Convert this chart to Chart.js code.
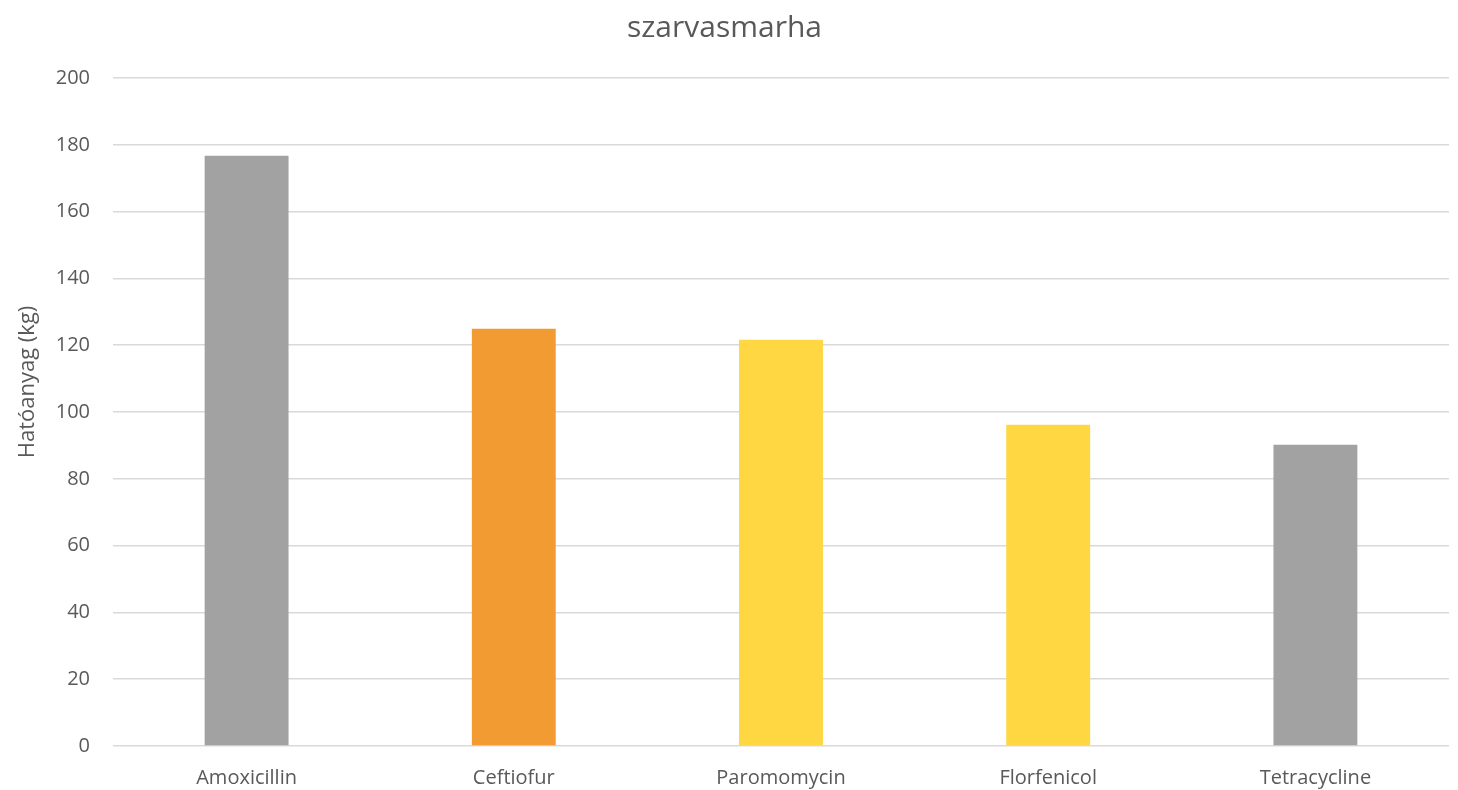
<!DOCTYPE html>
<html>
<head>
<meta charset="utf-8">
<script src="https://cdn.jsdelivr.net/npm/chart.js@4.4.1/dist/chart.umd.min.js"></script>
<style>
  html, body { margin: 0; padding: 0; background: #fff; }
  #wrap { width: 1458px; height: 790px; position: relative; }
</style>
</head>
<body>
<div id="wrap"><canvas id="chart" width="1458" height="790"></canvas></div>
<script>
// adatok
const hatoanyagok = ["Amoxicillin", "Ceftiofur", "Paromomycin", "Florfenicol", "Tetracycline"];
const mennyisegKg = [176.7, 124.9, 121.6, 96.2, 90.2];
const oszlopSzinek = ["#A2A2A2", "#F29B33", "#FED743", "#FED743", "#A2A2A2"];
const yTickek = [0, 20, 40, 60, 80, 100, 120, 140, 160, 180, 200];
const yCim = "Hatóanyag (kg)";

const textColor = "#595959";
const fontFamily = "'Open Sans', sans-serif";

// függőleges tengelycím, kicsit a rajzterület közepe fölé tolva
const yCimPlugin = {
  id: "yCim",
  afterDraw(chart) {
    const ctx = chart.ctx;
    const area = chart.chartArea;
    ctx.save();
    ctx.translate(28, (area.top + area.bottom) / 2 - 30);
    ctx.rotate(-Math.PI / 2);
    ctx.fillStyle = textColor;
    ctx.font = "22px " + fontFamily;
    ctx.textAlign = "center";
    ctx.textBaseline = "middle";
    ctx.fillText(yCim, 0, 0);
    ctx.restore();
  }
};

new Chart(document.getElementById("chart"), {
  type: "bar",
  data: {
    labels: hatoanyagok,
    datasets: [{
      data: mennyisegKg,
      backgroundColor: oszlopSzinek,
      borderWidth: 0,
      categoryPercentage: 1,
      barPercentage: 0.314
    }]
  },
  plugins: [yCimPlugin],
  options: {
    responsive: false,
    animation: false,
    layout: { padding: { left: 0, right: 9, top: 0, bottom: 0 } },
    plugins: {
      legend: { display: false },
      tooltip: { enabled: false },
      title: {
        display: true,
        text: "szarvasmarha",
        color: textColor,
        font: { family: fontFamily, size: 30, weight: "normal" },
        padding: { top: 10, bottom: 32 }
      }
    },
    scales: {
      x: {
        grid: { display: false },
        border: { display: false },
        ticks: {
          color: textColor,
          font: { family: fontFamily, size: 20 },
          padding: 12,
          maxRotation: 0
        },
        afterFit: s => { s.height = 44; }
      },
      y: {
        min: 0,
        max: 200,
        afterBuildTicks: s => { s.ticks = yTickek.map(v => ({ value: v })); },
        grid: { color: "#D9D9D9", lineWidth: 1.5, drawTicks: false },
        border: { display: false },
        ticks: {
          color: textColor,
          font: { family: fontFamily, size: 20 },
          padding: 23
        },
        afterFit: s => { s.width = 113; }
      }
    }
  }
});
</script>
</body>
</html>
